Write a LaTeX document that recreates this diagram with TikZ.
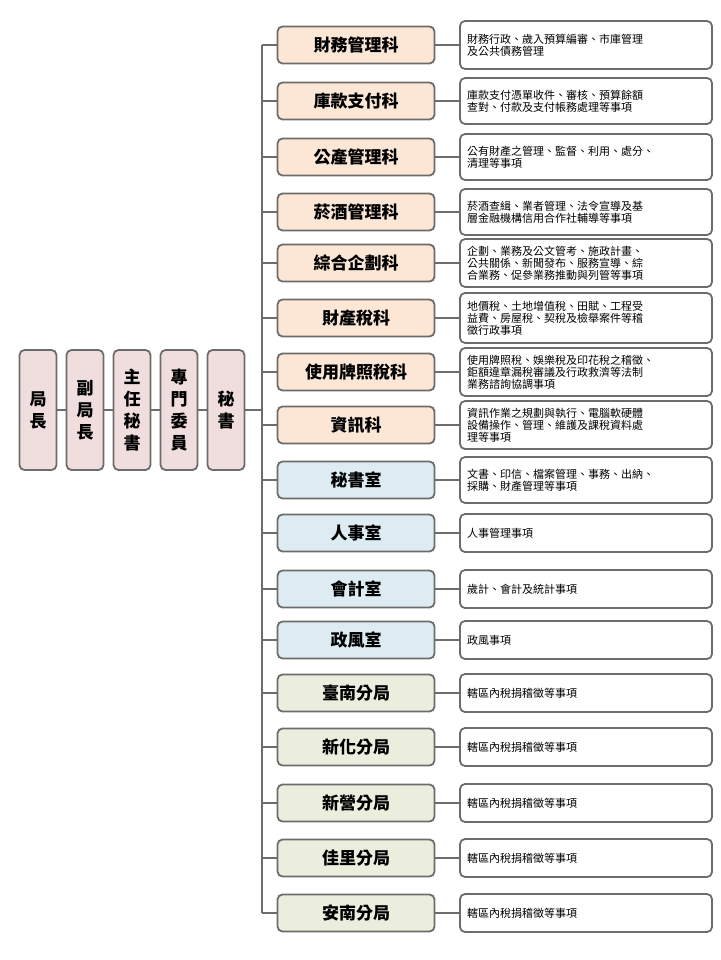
\documentclass[tikz,border=0pt]{standalone}
\usepackage{fontspec}
\setmainfont{Noto Sans CJK TC}
\begin{document}
\begin{tikzpicture}[x=1pt,y=-1pt,
 bx/.style={draw=gray!85!black,line width=1.8pt,rounded corners=5pt},
 top/.style={bx,fill=pink1,minimum width=37pt,minimum height=120pt,align=center,font=\fontsize{17}{22}\selectfont\bfseries},
 mid/.style={bx,minimum width=157pt,minimum height=37pt,font=\fontsize{17}{20}\selectfont\bfseries},
 desc/.style={bx,fill=white,minimum width=252pt,minimum height=#1,text width=238pt,align=left,font=\fontsize{11}{12}\selectfont},
 desc/.default=38pt,
 ln/.style={draw=gray!85!black,line width=1.2pt}]
\definecolor{pink1}{HTML}{F0DEDE}
\definecolor{peach}{HTML}{FCE6D6}
\definecolor{blue1}{HTML}{DDECF3}
\definecolor{green1}{HTML}{EBEEDD}
\useasboundingbox (0,0) rectangle (720,960);
\node[top] (t1) at (38,410) {局\\長};
\node[top] (t2) at (85,410) {副\\局\\長};
\node[top] (t3) at (132,410) {主\\任\\秘\\書};
\node[top] (t4) at (179,410) {專\\門\\委\\員};
\node[top] (t5) at (226,410) {秘\\書};
\foreach \a/\b in {t1/t2,t2/t3,t3/t4,t4/t5} \draw[ln] (\a)--(\b);
\coordinate (bus) at (262,410);
\draw[ln] (t5)--(bus);
\coordinate (bt) at (262,45);
\coordinate (bb) at (262,913);
\draw[ln] (bt)--(bb);
\foreach \i/\y/\c/\m/\h/\d in {
1/45/peach/財務管理科/48pt/{財務行政、歲入預算編審、市庫管理\\及公共債務管理},
2/101/peach/庫款支付科/46pt/{庫款支付憑單收件、審核、預算餘額\\查對、付款及支付帳務處理等事項},
3/157/peach/公產管理科/46pt/{公有財產之管理、監督、利用、處分、\\清理等事項},
4/212/peach/菸酒管理科/46pt/{菸酒查緝、業者管理、法令宣導及基\\層金融機構信用合作社輔導等事項},
5/263/peach/綜合企劃科/48pt/{企劃、業務及公文管考、施政計畫、\\公共關係、新聞發布、服務宣導、綜\\合業務、促參業務推動與列管等事項},
6/318/peach/財產稅科/50pt/{地價稅、土地增值稅、田賦、工程受\\益費、房屋稅、契稅及檢舉案件等稽\\徵行政事項},
7/372/peach/使用牌照稅科/48pt/{使用牌照稅、娛樂稅及印花稅之稽徵、\\鉅額違章漏稅審議及行政救濟等法制\\業務諮詢協調事項},
8/425/peach/資訊科/48pt/{資訊作業之規劃與執行、電腦軟硬體\\設備操作、管理、維護及課稅資料處\\理等事項},
9/480/blue1/秘書室/46pt/{文書、印信、檔案管理、事務、出納、\\採購、財產管理等事項},
10/533/blue1/人事室/38pt/{人事管理事項},
11/589/blue1/會計室/38pt/{歲計、會計及統計事項},
12/640/blue1/政風室/38pt/{政風事項},
13/693/green1/臺南分局/38pt/{轄區內稅捐稽徵等事項},
14/747/green1/新化分局/38pt/{轄區內稅捐稽徵等事項},
15/803/green1/新營分局/38pt/{轄區內稅捐稽徵等事項},
16/858/green1/佳里分局/38pt/{轄區內稅捐稽徵等事項},
17/913/green1/安南分局/38pt/{轄區內稅捐稽徵等事項}} {
 \node[mid,fill=\c] (m\i) at (356,\y) {\m};
 \node[desc=\h] (d\i) at (586,\y) {\d};
 \coordinate (j\i) at (262,\y);
 \draw[ln] (j\i)--(m\i);
 \draw[ln] (m\i)--(d\i);
}
\end{tikzpicture}
\end{document}
